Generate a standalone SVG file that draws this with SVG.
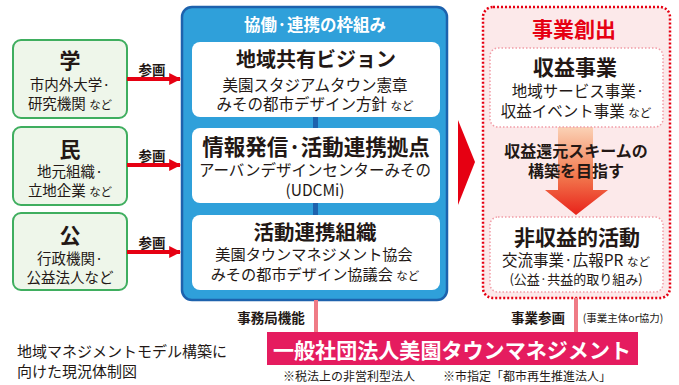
<svg xmlns="http://www.w3.org/2000/svg" width="679" height="385" viewBox="0 0 679 385">
<style>
text{font-family:"Noto Sans CJK JP","Noto Sans",sans-serif;fill:#231815;text-anchor:middle}
.b{font-weight:700}
.green{fill:#eef6ea;stroke:#3fae5f;stroke-width:2}
.wbox{fill:#fff}
.pbox{fill:#fff;stroke:#f19ca6;stroke-width:1.5;stroke-dasharray:1.5 2}
.arr{stroke:#e60012;stroke-width:4;fill:none}
.sm{font-size:11.5px}
.pl{stroke:#ef7b86;stroke-width:4}
</style>
<defs>
<marker id="ah" viewBox="0 0 10 10" refX="9" refY="5" markerWidth="3" markerHeight="3.2" orient="auto" markerUnits="strokeWidth">
<path d="M0,0L10,5L0,10z" fill="#e60012"/>
</marker>
<linearGradient id="og" x1="0" y1="0" x2="0" y2="1">
<stop offset="0" stop-color="#fbd2b6"/>
<stop offset="0.55" stop-color="#f27a4f"/>
<stop offset="1" stop-color="#e8221a"/>
</linearGradient>
</defs>

<g id="gaku">
<rect class="green" x="13" y="40" width="114" height="78" rx="8"/>
<text class="b" x="70" y="68" font-size="21">学</text>
<text x="70" y="90" font-size="14.5">市内外大学·</text>
<text x="70" y="109" font-size="14.5">研究機関 <tspan class="sm">など</tspan></text>
</g>
<g id="min">
<rect class="green" x="13" y="127" width="114" height="78" rx="8"/>
<text class="b" x="70" y="157" font-size="21">民</text>
<text x="70" y="177" font-size="14.5">地元組織·</text>
<text x="70" y="196" font-size="14.5">立地企業 <tspan class="sm">など</tspan></text>
</g>
<g id="kou">
<rect class="green" x="13" y="213" width="114" height="77" rx="8"/>
<text class="b" x="70" y="243" font-size="21">公</text>
<text x="70" y="264" font-size="14.5">行政機関·</text>
<text x="70" y="283" font-size="14.5">公益法人など</text>
</g>

<g id="framework">
<rect x="182" y="7" width="265" height="293" rx="10" fill="#2fa0da" stroke="#1d62ad" stroke-width="2.5"/>
<text class="b" x="315" y="31" font-size="16.5" style="fill:#fff">協働·連携の枠組み</text>
<rect x="313" y="110" width="5" height="110" fill="#1d62ad"/>
</g>
<g id="business">
<rect x="483" y="7" width="187" height="291" rx="10" fill="#fce9ea" stroke="#e60012" stroke-width="2.5" stroke-dasharray="2 2"/>
<text class="b" x="574" y="37" font-size="21" style="fill:#e60012">事業創出</text>
</g>

<g id="connectors">
<line class="arr" x1="127" y1="79" x2="180" y2="79" marker-end="url(#ah)"/>
<line class="arr" x1="127" y1="165" x2="180" y2="165" marker-end="url(#ah)"/>
<line class="arr" x1="127" y1="252" x2="180" y2="252" marker-end="url(#ah)"/>
<text class="b" x="152" y="75" font-size="13.5">参画</text>
<text class="b" x="152" y="161" font-size="13.5">参画</text>
<text class="b" x="152" y="248" font-size="13.5">参画</text>
<line class="pl" x1="316" y1="300" x2="316" y2="333"/>
<line class="pl" x1="576" y1="298" x2="576" y2="333"/>
<polygon points="458,120 475,162 458,205" fill="#e60012"/>
<path d="M558,127H593V190H608L576,215L545,190H558Z" fill="url(#og)"/>
<text class="b" x="576" y="157" font-size="16">収益還元スキームの</text>
<text class="b" x="576" y="177" font-size="16">構築を目指す</text>
<text class="b" x="271" y="323" font-size="13.5">事務局機能</text>
<text class="b" x="538" y="323" font-size="13.5">事業参画</text>
<text x="623" y="322" font-size="10.5">(事業主体or協力)</text>
</g>

<g id="vision">
<rect class="wbox" x="192" y="42" width="248" height="75" rx="8"/>
<text class="b" x="316" y="67" font-size="20">地域共有ビジョン</text>
<text x="315" y="91" font-size="15.5">美園スタジアムタウン憲章</text>
<text x="315" y="110" font-size="15.5">みその都市デザイン方針 <tspan class="sm">など</tspan></text>
</g>
<g id="base">
<rect class="wbox" x="192" y="128" width="248" height="75" rx="8"/>
<text class="b" x="316" y="155" font-size="21.5">情報発信·活動連携拠点</text>
<text x="315" y="176" font-size="15.5">アーバンデザインセンターみその</text>
<text x="315" y="196" font-size="15.5">(UDCMi)</text>
</g>
<g id="org">
<rect class="wbox" x="192" y="215" width="248" height="75" rx="8"/>
<text class="b" x="315" y="240" font-size="20.5">活動連携組織</text>
<text x="314" y="260" font-size="15.2">美園タウンマネジメント協会</text>
<text x="315" y="280" font-size="15.2">みその都市デザイン協議会 <tspan class="sm">など</tspan></text>
</g>

<g id="profit">
<rect class="pbox" x="490" y="48" width="173" height="79" rx="8"/>
<text class="b" x="575" y="75" font-size="21">収益事業</text>
<text x="578" y="97" font-size="15.5">地域サービス事業·</text>
<text x="576" y="117" font-size="15.5">収益イベント事業 <tspan class="sm">など</tspan></text>
</g>
<g id="nonprofit">
<rect class="pbox" x="490" y="217" width="173" height="75" rx="8"/>
<text class="b" x="577" y="245" font-size="21">非収益的活動</text>
<text x="576" y="266" font-size="15.5">交流事業·広報PR <tspan class="sm">など</tspan></text>
<text x="576" y="284" font-size="13">(公益·共益的取り組み)</text>
</g>

<g id="tm">
<rect x="267" y="332" width="371" height="33" fill="#e51c5f"/>
<text class="b" x="452" y="358" font-size="21" textLength="358" lengthAdjust="spacingAndGlyphs" style="fill:#fff">一般社団法人美園タウンマネジメント</text>
<text x="349" y="381" font-size="12">※税法上の非営利型法人</text>
<text x="527" y="381" font-size="12">※市指定「都市再生推進法人」</text>
</g>

<text x="17" y="357" font-size="15" style="text-anchor:start">地域マネジメントモデル構築に</text>
<text x="17" y="377" font-size="15" style="text-anchor:start">向けた現況体制図</text>
</svg>
